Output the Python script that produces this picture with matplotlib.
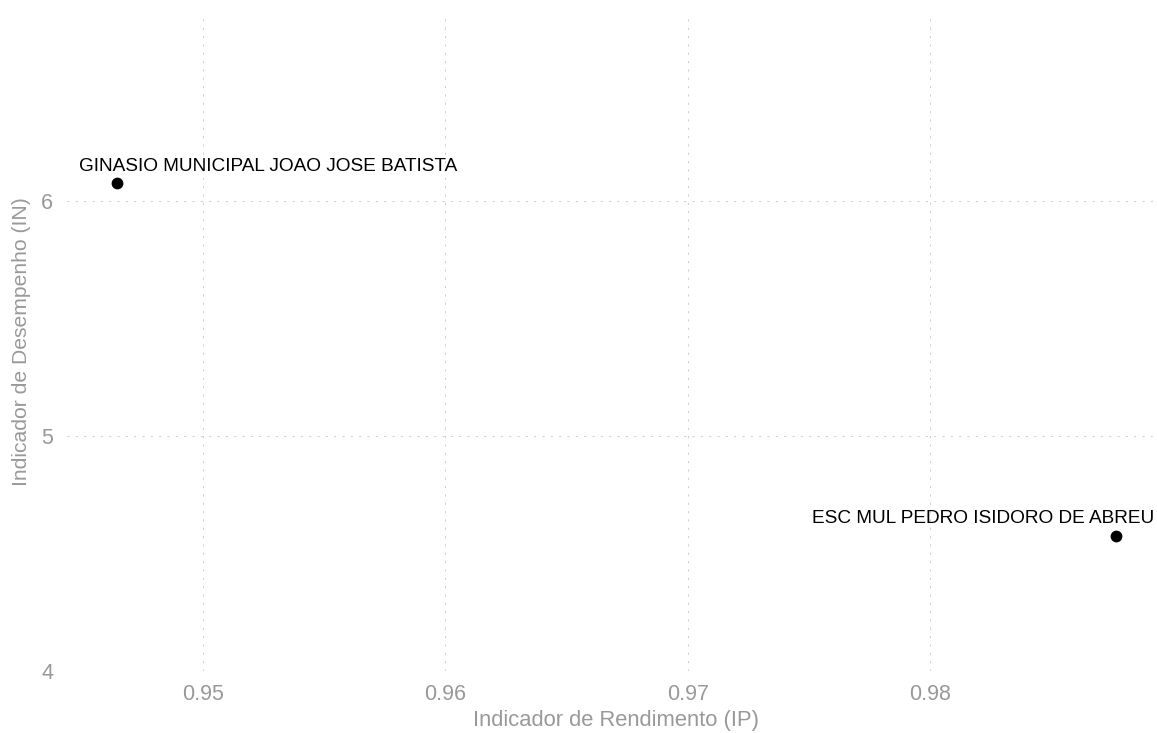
import matplotlib
matplotlib.use("Agg")
import matplotlib.pyplot as plt

plt.rcParams['font.family'] = ['Liberation Sans', 'DejaVu Sans']

escolas = ["GINASIO MUNICIPAL JOAO JOSE BATISTA", "ESC MUL PEDRO ISIDORO DE ABREU"]
ip = [0.94645, 0.98767]
ind = [6.077, 4.574]
label_ha = ["left", "right"]
label_dx = [-38, 38]
label_dy = [12, 13]

xticks = [0.95, 0.96, 0.97, 0.98]
xticklabels = ["0.95", "0.96", "0.97", "0.98"]
yticks = [4, 5, 6]
yticklabels = ["4", "5", "6"]

fig = plt.figure(figsize=(11.57, 7.33), dpi=100)
ax = fig.add_axes([67/1157, 1 - 671/733, (1155-67)/1157, (671-13)/733])

ax.scatter(ip, ind, s=72, color="black", zorder=3, linewidths=0)
for name, x, y, ha, dx, dy in zip(escolas, ip, ind, label_ha, label_dx, label_dy):
    ax.annotate(name, (x, y), xytext=(dx * 0.72, dy * 0.72), textcoords="offset points",
                ha=ha, va="baseline", fontsize=13.7, color="black")

ax.set_xlim(0.94439, 0.98928)
ax.set_ylim(4, 6.8)
ax.set_xticks(xticks)
ax.set_xticklabels(xticklabels)
ax.set_yticks(yticks)
ax.set_yticklabels(yticklabels)

for s in ax.spines.values():
    s.set_visible(False)
ax.tick_params(axis="x", length=0, labelsize=15.5, labelcolor="#999999", pad=9)
ax.tick_params(axis="y", length=0, labelsize=15.5, labelcolor="#999999", pad=10)
ax.grid(True, color="#cfcfcf", linestyle=(0, (2, 6)), linewidth=0.75)
ax.set_axisbelow(True)
ax.set_xlabel("Indicador de Rendimento (IP)", fontsize=15.8, color="#999999")
ax.set_ylabel("Indicador de Desempenho (IN)", fontsize=15.2, color="#999999", labelpad=7)
ax.xaxis.set_label_coords((616 - 67) / 1088, -0.06)

fig.savefig("out.png", dpi=100)
